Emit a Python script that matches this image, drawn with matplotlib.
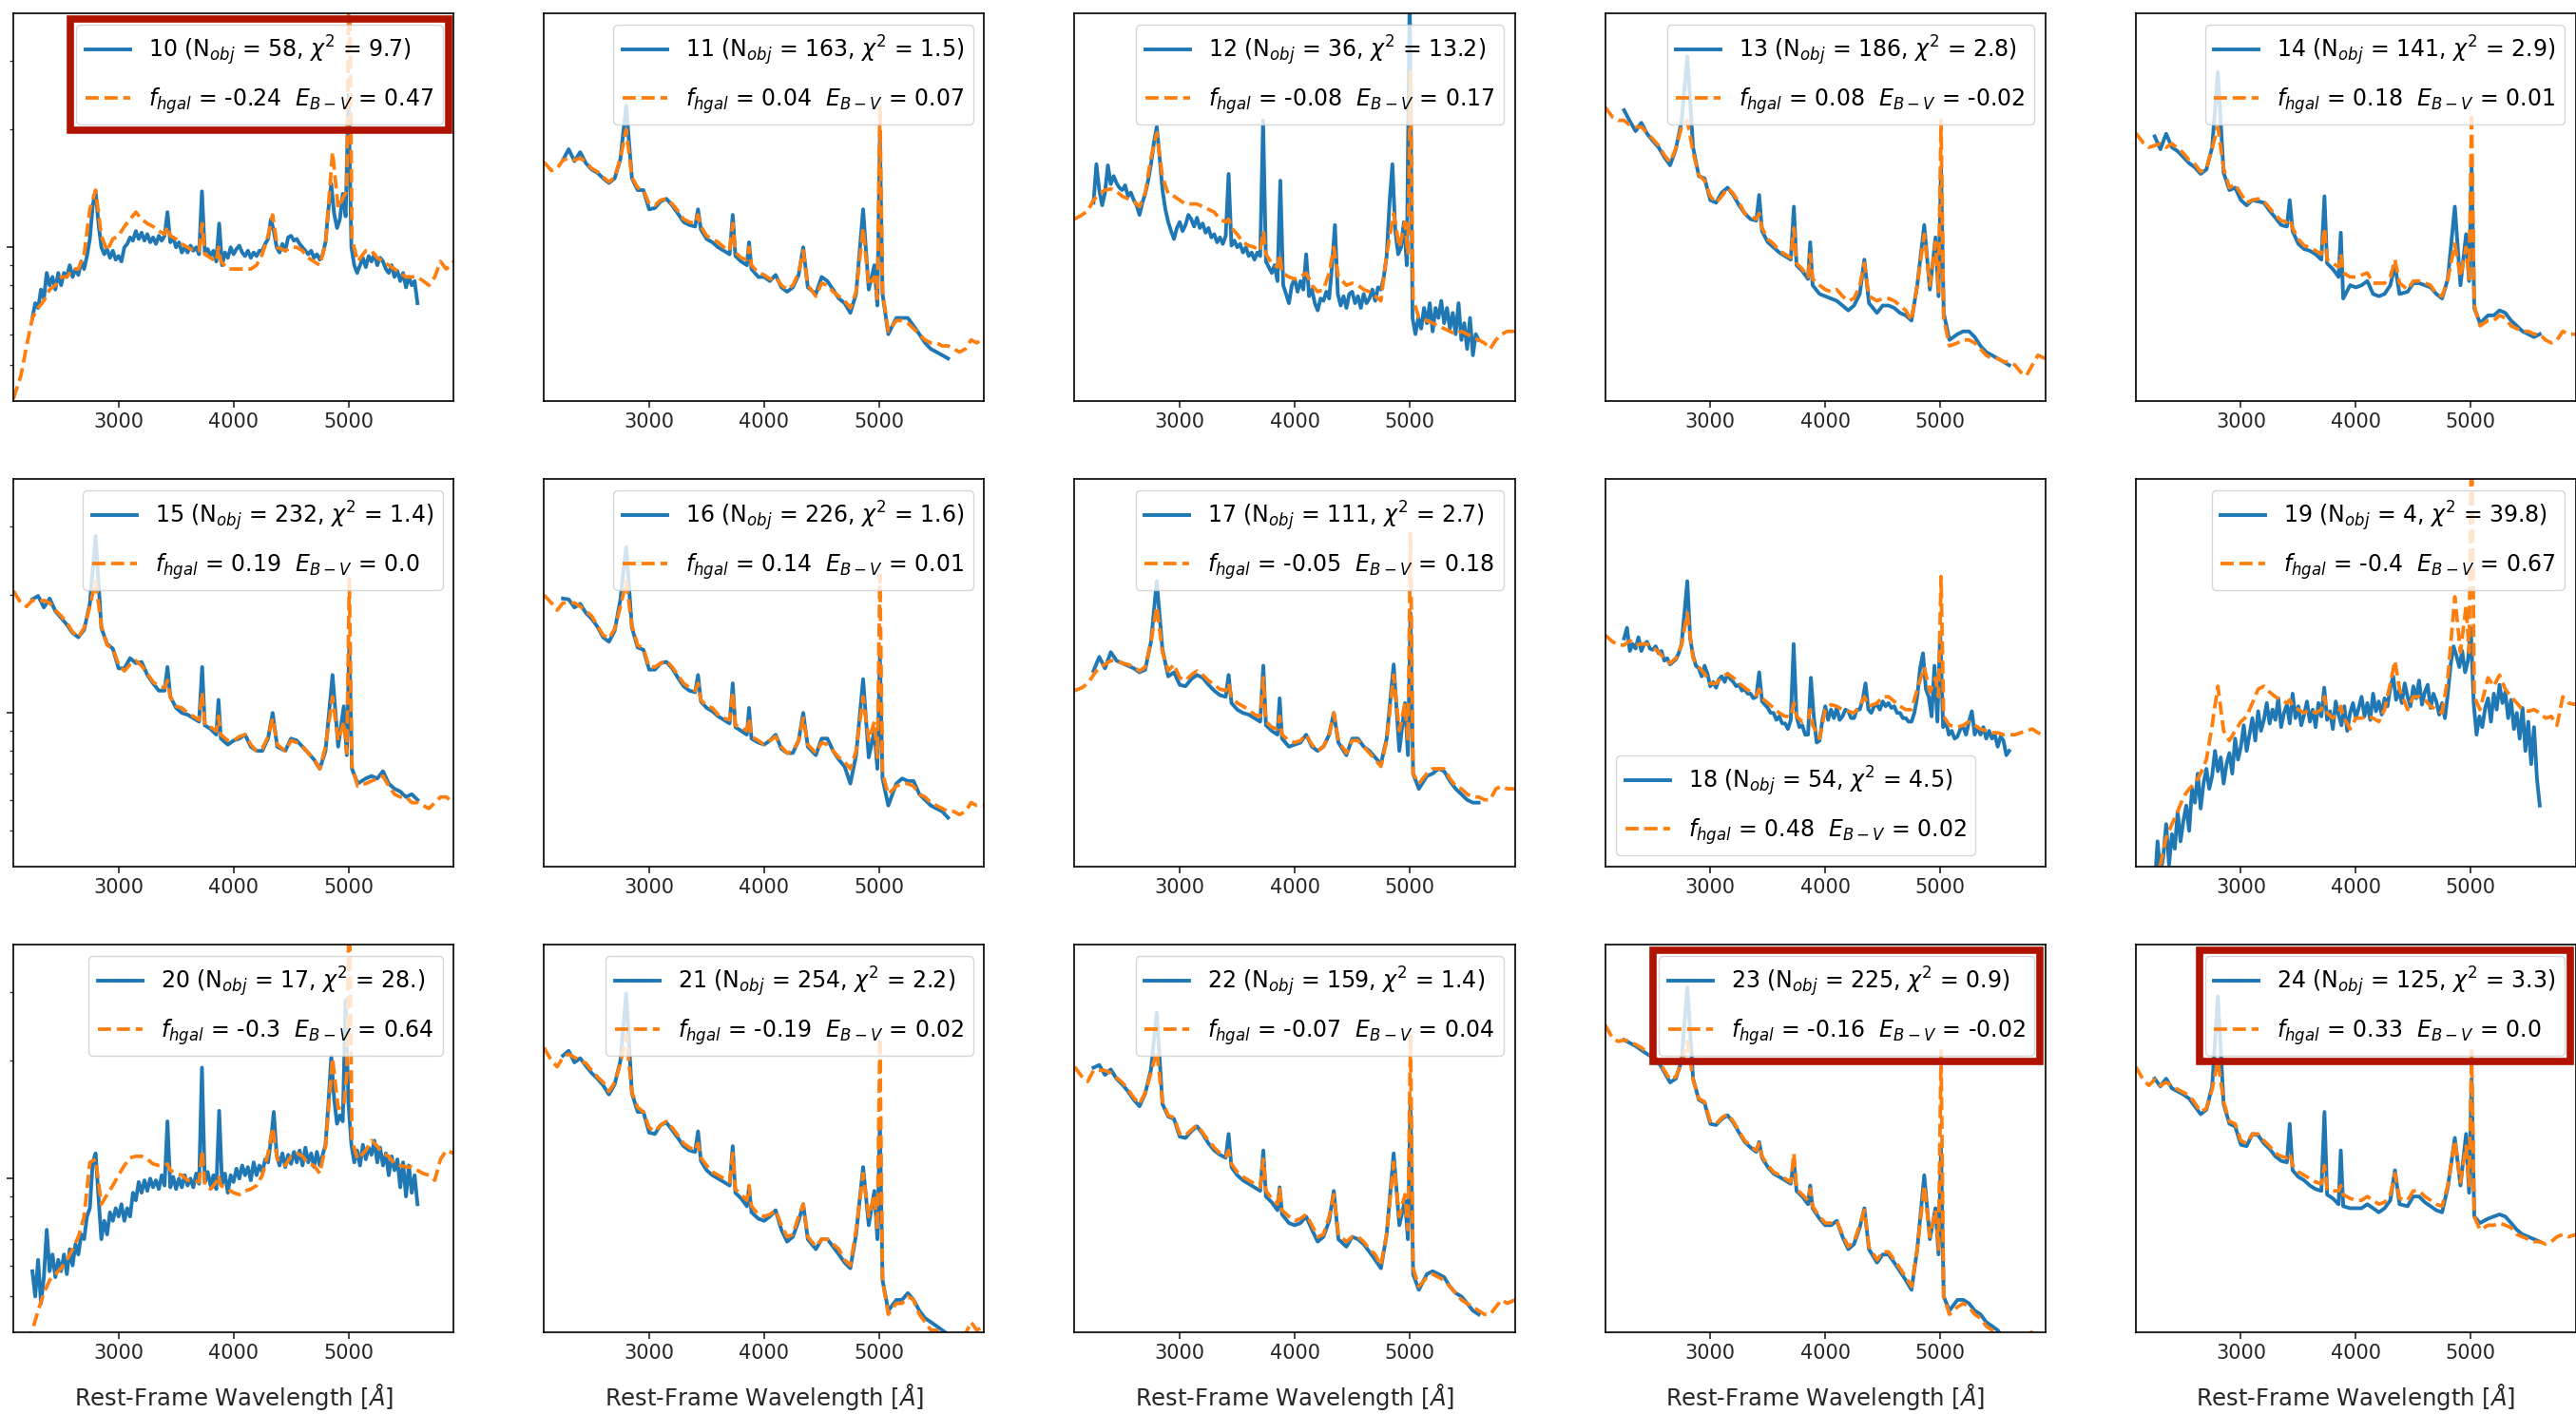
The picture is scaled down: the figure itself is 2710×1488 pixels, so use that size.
import matplotlib
matplotlib.use("Agg")
import matplotlib.pyplot as plt
from matplotlib.patches import Rectangle
from matplotlib.ticker import NullLocator

plt.rcParams['font.family'] = ['DejaVu Sans']
plt.rcParams['font.size'] = 15
plt.rcParams['axes.linewidth'] = 1.2
plt.rcParams['xtick.major.size'] = 5.25
plt.rcParams['xtick.major.width'] = 1.2
plt.rcParams['ytick.major.size'] = 5.25
plt.rcParams['ytick.major.width'] = 1.2
plt.rcParams['ytick.minor.size'] = 3.0
plt.rcParams['ytick.minor.width'] = 0.9

# rest-frame wavelength grid [A]; the clean stacks are sampled on wave[3:75] (2250-5600 A)
wave = [2085, 2150, 2200, 2250, 2300, 2350, 2400, 2450, 2500,
        2550, 2600, 2650, 2700, 2750, 2800, 2850, 2900, 2950,
        3000, 3050, 3100, 3150, 3200, 3250, 3300, 3350, 3400,
        3425, 3450, 3500, 3550, 3600, 3650, 3700, 3727, 3750,
        3800, 3850, 3869, 3890, 3950, 4000, 4050, 4100, 4150,
        4200, 4250, 4300, 4340, 4380, 4450, 4500, 4550, 4600,
        4650, 4700, 4750, 4800, 4861, 4910, 4959, 4985, 5007,
        5030, 5080, 5150, 5200, 5250, 5300, 5350, 5400, 5450,
        5500, 5550, 5600, 5650, 5700, 5750, 5800, 5850, 5915]
# the noisy stacks (few objects) are kept at 25 A sampling
fine_wave = list(range(2250, 5601, 25))

# normalised flux of the composite spectra (obs) and best-fit models (fit)
obs_10 = [0.66, 0.72, 0.70, 0.78, 0.74, 0.86, 0.80, 0.84, 0.78, 0.86,
          0.80, 0.86, 0.84, 0.90, 0.84, 0.88, 0.85, 0.92, 0.88, 0.95,
          1.05, 1.28, 1.39, 1.15, 1.00, 0.96, 0.99, 0.94, 0.98, 0.93,
          0.95, 0.92, 1.00, 1.02, 1.06, 1.04, 1.10, 1.05, 1.09, 1.04,
          1.08, 1.03, 1.06, 1.02, 1.07, 1.04, 1.07, 1.23, 1.03, 1.06,
          1.00, 1.03, 0.97, 1.00, 0.97, 1.01, 0.98, 1.00, 0.96, 1.39,
          0.97, 0.99, 0.95, 0.98, 0.92, 1.15, 0.90, 0.97, 0.94, 1.00,
          0.96, 0.99, 1.01, 0.97, 0.95, 0.98, 0.94, 0.97, 0.95, 0.98,
          0.98, 1.02, 1.05, 1.18, 1.10, 1.00, 0.97, 1.02, 0.98, 1.06,
          1.07, 1.04, 1.05, 1.02, 1.00, 0.98, 0.96, 0.98, 0.94, 0.96,
          0.93, 0.96, 1.03, 1.25, 1.45, 1.22, 1.12, 1.18, 1.37, 1.20,
          2.45, 1.00, 0.90, 0.86, 0.90, 0.94, 0.89, 0.95, 0.92, 0.96,
          0.90, 0.94, 0.92, 0.88, 0.86, 0.90, 0.84, 0.87, 0.82, 0.86,
          0.79, 0.84, 0.80, 0.82, 0.72]
fit_10 = [0.41, 0.47, 0.56, 0.66, 0.70, 0.73, 0.78, 0.80, 0.84,
          0.84, 0.88, 0.88, 0.96, 1.25, 1.40, 1.07, 0.98, 1.05,
          1.07, 1.13, 1.18, 1.23, 1.18, 1.15, 1.13, 1.10, 1.08,
          1.13, 1.07, 1.05, 1.02, 1.00, 0.98, 0.98, 1.15, 0.96,
          0.94, 0.92, 1.00, 0.92, 0.88, 0.88, 0.88, 0.88, 0.88,
          0.90, 0.96, 1.07, 1.21, 1.00, 0.98, 1.00, 1.00, 0.98,
          0.94, 0.92, 0.90, 1.02, 1.75, 1.26, 1.35, 1.39, 6.00,
          1.05, 0.92, 0.98, 0.98, 0.94, 0.92, 0.90, 0.88, 0.86,
          0.84, 0.84, 0.84, 0.82, 0.80, 0.84, 0.92, 0.88, 0.92]

obs_11 = [1.67, 1.78, 1.66, 1.75, 1.64, 1.58,
          1.55, 1.50, 1.46, 1.50, 1.68, 2.30, 1.50, 1.40, 1.40,
          1.25, 1.26, 1.31, 1.33, 1.28, 1.22, 1.16, 1.14, 1.13,
          1.25, 1.11, 1.05, 1.03, 1.00, 0.98, 0.96, 1.21, 0.95,
          0.92, 0.90, 1.03, 0.88, 0.84, 0.84, 0.82, 0.85, 0.79,
          0.77, 0.79, 0.85, 1.00, 0.79, 0.76, 0.84, 0.82, 0.78,
          0.74, 0.72, 0.68, 0.76, 1.25, 0.78, 0.90, 0.71, 1.90,
          0.76, 0.60, 0.66, 0.66, 0.66, 0.63, 0.60, 0.57, 0.55,
          0.54, 0.53, 0.52]
fit_11 = [1.65, 1.57, 1.59, 1.67, 1.69, 1.67, 1.69, 1.65, 1.59,
          1.56, 1.51, 1.47, 1.51, 1.69, 2.00, 1.51, 1.42, 1.40,
          1.29, 1.28, 1.32, 1.33, 1.29, 1.24, 1.18, 1.16, 1.15,
          1.21, 1.13, 1.07, 1.05, 1.03, 1.00, 0.98, 1.15, 0.97,
          0.94, 0.93, 1.00, 0.90, 0.86, 0.85, 0.83, 0.84, 0.80,
          0.78, 0.80, 0.86, 0.98, 0.80, 0.75, 0.81, 0.80, 0.77,
          0.75, 0.73, 0.70, 0.77, 1.12, 0.80, 0.84, 0.74, 2.30,
          0.77, 0.61, 0.65, 0.65, 0.64, 0.62, 0.60, 0.58, 0.57,
          0.57, 0.56, 0.56, 0.55, 0.54, 0.55, 0.58, 0.57, 0.59]

obs_12 = [1.30, 1.63, 1.40, 1.28, 1.38, 1.62, 1.45, 1.52, 1.46, 1.42,
          1.40, 1.44, 1.35, 1.38, 1.32, 1.28, 1.21, 1.30, 1.37, 1.48,
          1.63, 1.85, 2.03, 1.70, 1.40, 1.25, 1.16, 1.10, 1.05, 1.12,
          1.16, 1.10, 1.14, 1.21, 1.18, 1.13, 1.19, 1.12, 1.15, 1.09,
          1.12, 1.06, 1.08, 1.03, 1.06, 1.02, 1.07, 1.54, 1.01, 1.04,
          1.00, 1.02, 0.97, 1.00, 0.95, 0.97, 0.93, 0.97, 0.95, 2.11,
          0.92, 0.89, 0.86, 0.90, 0.82, 1.48, 0.80, 0.76, 0.72, 0.80,
          0.83, 0.77, 0.82, 0.78, 0.96, 0.75, 0.78, 0.72, 0.69, 0.74,
          0.73, 0.77, 0.74, 0.90, 1.14, 0.76, 0.71, 0.75, 0.70, 0.76,
          0.77, 0.72, 0.75, 0.70, 0.76, 0.72, 0.74, 0.78, 0.73, 0.79,
          0.78, 0.84, 0.95, 1.30, 1.63, 1.10, 0.96, 1.00, 1.16, 0.90,
          4.50, 0.66, 0.60, 0.66, 0.62, 0.70, 0.64, 0.72, 0.61, 0.70,
          0.66, 0.73, 0.64, 0.70, 0.62, 0.68, 0.60, 0.72, 0.58, 0.64,
          0.55, 0.66, 0.53, 0.60, 0.58]
fit_12 = [1.18, 1.21, 1.24, 1.32, 1.37, 1.40, 1.41, 1.39, 1.35,
          1.33, 1.31, 1.27, 1.38, 1.69, 1.96, 1.51, 1.37, 1.35,
          1.32, 1.29, 1.29, 1.29, 1.27, 1.25, 1.23, 1.18, 1.16,
          1.18, 1.12, 1.08, 1.03, 1.01, 1.00, 0.98, 1.10, 0.96,
          0.91, 0.89, 0.96, 0.86, 0.84, 0.83, 0.84, 0.86, 0.80,
          0.77, 0.78, 0.86, 1.00, 0.84, 0.80, 0.81, 0.80, 0.78,
          0.77, 0.75, 0.73, 0.96, 1.22, 1.00, 1.16, 0.96, 2.80,
          0.74, 0.66, 0.65, 0.64, 0.63, 0.62, 0.61, 0.60, 0.61,
          0.60, 0.59, 0.58, 0.57, 0.55, 0.58, 0.60, 0.61, 0.61]

obs_13 = [2.24, 2.10, 1.98, 2.08, 1.95, 1.87,
          1.80, 1.70, 1.62, 1.78, 2.10, 3.07, 1.80, 1.52, 1.50,
          1.32, 1.30, 1.38, 1.42, 1.36, 1.28, 1.22, 1.18, 1.17,
          1.36, 1.10, 1.03, 1.00, 0.97, 0.95, 0.93, 1.27, 0.90,
          0.87, 0.83, 1.03, 0.80, 0.76, 0.75, 0.74, 0.73, 0.71,
          0.69, 0.71, 0.76, 0.93, 0.72, 0.68, 0.71, 0.71, 0.70,
          0.68, 0.67, 0.65, 0.80, 1.14, 0.78, 1.06, 0.75, 1.60,
          0.68, 0.58, 0.60, 0.61, 0.61, 0.59, 0.56, 0.54, 0.53,
          0.52, 0.51, 0.50]
fit_13 = [2.28, 2.15, 2.11, 2.11, 2.05, 2.03, 2.03, 1.96, 1.89,
          1.82, 1.72, 1.65, 1.79, 2.03, 2.11, 1.75, 1.53, 1.48,
          1.35, 1.30, 1.35, 1.42, 1.37, 1.30, 1.22, 1.20, 1.18,
          1.22, 1.12, 1.05, 1.02, 0.98, 0.96, 0.94, 1.12, 0.91,
          0.88, 0.84, 0.96, 0.83, 0.80, 0.78, 0.77, 0.78, 0.75,
          0.73, 0.74, 0.80, 0.91, 0.75, 0.73, 0.74, 0.74, 0.73,
          0.71, 0.69, 0.65, 0.80, 1.08, 0.80, 1.03, 0.77, 2.11,
          0.66, 0.56, 0.57, 0.58, 0.58, 0.57, 0.55, 0.53, 0.52,
          0.52, 0.51, 0.51, 0.50, 0.48, 0.47, 0.50, 0.53, 0.52]

obs_14 = [1.92, 1.78, 1.95, 1.80, 1.76, 1.70,
          1.64, 1.60, 1.54, 1.58, 1.80, 2.80, 1.55, 1.40, 1.42,
          1.32, 1.28, 1.32, 1.31, 1.30, 1.24, 1.19, 1.14, 1.13,
          1.32, 1.10, 1.02, 0.99, 0.98, 0.96, 0.93, 1.35, 0.91,
          0.88, 0.84, 1.09, 0.74, 0.80, 0.79, 0.80, 0.82, 0.76,
          0.75, 0.76, 0.80, 0.90, 0.76, 0.77, 0.81, 0.81, 0.80,
          0.79, 0.76, 0.74, 0.83, 1.27, 0.80, 1.08, 0.82, 1.60,
          0.70, 0.64, 0.67, 0.67, 0.69, 0.68, 0.65, 0.63, 0.61,
          0.60, 0.59, 0.60]
fit_14 = [1.96, 1.85, 1.80, 1.82, 1.84, 1.80, 1.84, 1.79, 1.74,
          1.67, 1.63, 1.56, 1.59, 1.79, 2.03, 1.59, 1.42, 1.45,
          1.37, 1.30, 1.32, 1.33, 1.31, 1.26, 1.21, 1.17, 1.16,
          1.18, 1.12, 1.05, 1.01, 1.00, 0.98, 0.96, 1.12, 0.93,
          0.91, 0.89, 0.96, 0.86, 0.84, 0.84, 0.85, 0.86, 0.81,
          0.81, 0.81, 0.84, 0.93, 0.81, 0.78, 0.82, 0.82, 0.81,
          0.80, 0.76, 0.75, 0.83, 1.02, 0.84, 1.00, 0.83, 2.20,
          0.71, 0.63, 0.65, 0.65, 0.67, 0.66, 0.63, 0.62, 0.61,
          0.61, 0.60, 0.60, 0.58, 0.57, 0.58, 0.61, 0.60, 0.60]

obs_15 = [1.95, 1.99, 1.86, 1.96, 1.82, 1.75,
          1.68, 1.60, 1.56, 1.63, 1.90, 2.83, 1.65, 1.50, 1.46,
          1.30, 1.30, 1.38, 1.34, 1.35, 1.25, 1.19, 1.14, 1.14,
          1.31, 1.10, 1.03, 1.00, 0.99, 0.97, 0.95, 1.31, 0.93,
          0.91, 0.88, 1.08, 0.86, 0.83, 0.85, 0.86, 0.88, 0.82,
          0.80, 0.80, 0.86, 1.00, 0.82, 0.80, 0.86, 0.85, 0.82,
          0.79, 0.76, 0.72, 0.80, 1.25, 0.82, 1.04, 0.78, 1.50,
          0.72, 0.66, 0.68, 0.69, 0.68, 0.71, 0.66, 0.64, 0.63,
          0.61, 0.62, 0.60]
fit_15 = [2.05, 1.91, 1.87, 1.94, 1.92, 1.94, 1.91, 1.83, 1.77,
          1.70, 1.61, 1.56, 1.65, 1.87, 2.17, 1.67, 1.49, 1.46,
          1.33, 1.28, 1.33, 1.36, 1.32, 1.26, 1.20, 1.17, 1.16,
          1.21, 1.10, 1.04, 1.03, 1.00, 0.98, 0.96, 1.13, 0.93,
          0.92, 0.90, 0.98, 0.88, 0.85, 0.85, 0.87, 0.88, 0.83,
          0.80, 0.81, 0.87, 0.97, 0.83, 0.80, 0.85, 0.84, 0.82,
          0.79, 0.76, 0.72, 0.82, 1.10, 0.85, 0.95, 0.79, 2.20,
          0.73, 0.65, 0.66, 0.67, 0.68, 0.69, 0.65, 0.62, 0.61,
          0.61, 0.59, 0.59, 0.58, 0.57, 0.59, 0.61, 0.61, 0.59]

obs_16 = [1.96, 1.95, 1.86, 1.90, 1.80, 1.74,
          1.66, 1.56, 1.52, 1.62, 1.95, 2.65, 1.65, 1.47, 1.45,
          1.29, 1.29, 1.34, 1.35, 1.30, 1.23, 1.17, 1.14, 1.13,
          1.25, 1.07, 1.03, 1.01, 0.98, 0.96, 0.94, 1.19, 0.92,
          0.90, 0.88, 1.03, 0.86, 0.84, 0.83, 0.85, 0.88, 0.81,
          0.79, 0.79, 0.85, 1.00, 0.82, 0.78, 0.86, 0.86, 0.80,
          0.76, 0.73, 0.66, 0.78, 1.22, 0.77, 0.90, 0.72, 1.40,
          0.68, 0.58, 0.66, 0.68, 0.67, 0.67, 0.62, 0.60, 0.58,
          0.57, 0.56, 0.54]
fit_16 = [2.00, 1.91, 1.83, 1.91, 1.91, 1.91, 1.87, 1.82, 1.77,
          1.67, 1.58, 1.55, 1.64, 1.87, 2.17, 1.67, 1.49, 1.46,
          1.31, 1.31, 1.34, 1.36, 1.31, 1.25, 1.19, 1.16, 1.14,
          1.19, 1.08, 1.04, 1.03, 0.99, 0.97, 0.96, 1.13, 0.93,
          0.92, 0.90, 0.97, 0.87, 0.85, 0.83, 0.85, 0.87, 0.82,
          0.79, 0.80, 0.85, 0.97, 0.83, 0.79, 0.84, 0.83, 0.80,
          0.77, 0.75, 0.72, 0.80, 1.10, 0.85, 0.95, 0.77, 2.25,
          0.70, 0.62, 0.65, 0.66, 0.66, 0.65, 0.62, 0.61, 0.59,
          0.58, 0.57, 0.56, 0.56, 0.55, 0.56, 0.59, 0.58, 0.58]

obs_17 = [1.28, 1.39, 1.30, 1.43, 1.36, 1.34,
          1.32, 1.30, 1.27, 1.29, 1.52, 2.17, 1.45, 1.24, 1.27,
          1.18, 1.17, 1.22, 1.25, 1.23, 1.18, 1.14, 1.11, 1.10,
          1.25, 1.06, 1.02, 1.00, 0.99, 0.97, 0.95, 1.32, 0.93,
          0.90, 0.88, 1.09, 0.86, 0.82, 0.83, 0.84, 0.88, 0.82,
          0.80, 0.82, 0.88, 1.00, 0.84, 0.78, 0.86, 0.86, 0.82,
          0.80, 0.77, 0.74, 0.86, 1.33, 0.80, 1.06, 0.78, 1.80,
          0.70, 0.64, 0.69, 0.70, 0.72, 0.71, 0.67, 0.64, 0.62,
          0.60, 0.59, 0.59]
fit_17 = [1.14, 1.16, 1.19, 1.25, 1.31, 1.33, 1.36, 1.36, 1.34,
          1.33, 1.31, 1.28, 1.31, 1.52, 1.87, 1.43, 1.28, 1.33,
          1.23, 1.21, 1.25, 1.28, 1.25, 1.21, 1.18, 1.15, 1.14,
          1.19, 1.10, 1.06, 1.04, 1.02, 0.99, 0.98, 1.23, 0.95,
          0.92, 0.91, 0.98, 0.88, 0.85, 0.84, 0.85, 0.88, 0.83,
          0.80, 0.82, 0.88, 1.00, 0.85, 0.79, 0.85, 0.85, 0.82,
          0.79, 0.76, 0.73, 0.85, 1.25, 0.90, 1.06, 0.85, 2.87,
          0.70, 0.66, 0.70, 0.72, 0.72, 0.72, 0.68, 0.65, 0.64,
          0.62, 0.61, 0.61, 0.60, 0.60, 0.64, 0.65, 0.64, 0.64]

obs_18 = [1.55, 1.65, 1.44, 1.50, 1.46, 1.56, 1.44, 1.50, 1.52, 1.46,
          1.45, 1.48, 1.42, 1.44, 1.36, 1.38, 1.33, 1.35, 1.37, 1.42,
          1.50, 1.80, 2.17, 1.55, 1.40, 1.32, 1.30, 1.24, 1.32, 1.26,
          1.17, 1.20, 1.16, 1.22, 1.24, 1.20, 1.26, 1.22, 1.20, 1.17,
          1.18, 1.14, 1.15, 1.12, 1.12, 1.09, 1.10, 1.27, 1.07, 1.05,
          1.03, 1.00, 1.00, 0.96, 0.98, 0.94, 0.94, 0.91, 0.96, 1.50,
          0.98, 0.92, 0.93, 0.88, 0.88, 1.23, 0.98, 0.84, 0.85, 0.96,
          1.04, 0.96, 1.02, 0.97, 1.03, 0.96, 0.98, 1.02, 1.01, 0.97,
          0.97, 1.02, 1.02, 1.08, 1.19, 1.02, 1.00, 1.04, 1.05, 1.02,
          1.07, 1.04, 1.06, 1.03, 1.04, 1.00, 1.00, 0.97, 0.97, 0.95,
          0.95, 1.00, 1.10, 1.30, 1.42, 1.15, 1.10, 0.98, 1.32, 0.95,
          1.60, 0.92, 0.95, 0.88, 0.90, 0.86, 0.87, 0.91, 0.92, 0.88,
          0.95, 1.01, 0.88, 0.92, 0.88, 0.92, 0.86, 0.90, 0.86, 0.88,
          0.82, 0.87, 0.85, 0.78, 0.80]
fit_18 = [1.58, 1.52, 1.49, 1.49, 1.53, 1.49, 1.50, 1.50, 1.47,
          1.43, 1.38, 1.34, 1.38, 1.49, 1.80, 1.38, 1.31, 1.26,
          1.19, 1.19, 1.23, 1.26, 1.23, 1.19, 1.16, 1.13, 1.11,
          1.15, 1.09, 1.06, 1.03, 1.00, 0.98, 0.98, 1.06, 0.98,
          0.95, 0.97, 1.02, 0.93, 0.86, 1.02, 1.05, 1.04, 1.02,
          1.01, 1.00, 1.04, 1.10, 1.04, 1.06, 1.10, 1.10, 1.07,
          1.04, 1.02, 1.02, 1.15, 1.31, 1.13, 1.23, 1.10, 2.23,
          0.98, 0.93, 0.92, 0.93, 0.95, 0.93, 0.91, 0.90, 0.89,
          0.89, 0.88, 0.88, 0.88, 0.89, 0.90, 0.91, 0.89, 0.87]

obs_19 = [0.36, 0.47, 0.39, 0.43, 0.52, 0.41, 0.49, 0.45, 0.56, 0.47,
          0.53, 0.58, 0.50, 0.64, 0.59, 0.70, 0.57, 0.66, 0.72, 0.64,
          0.69, 0.80, 0.71, 0.77, 0.66, 0.74, 0.79, 0.70, 0.86, 0.76,
          0.82, 0.93, 0.80, 0.88, 0.97, 0.85, 1.01, 0.90, 0.96, 1.06,
          0.94, 1.02, 0.96, 1.09, 0.92, 1.00, 1.05, 0.94, 1.12, 0.97,
          1.04, 0.93, 0.99, 1.07, 0.95, 1.02, 0.92, 1.06, 0.98, 1.16,
          0.96, 1.01, 0.91, 1.07, 0.99, 0.93, 1.04, 0.90, 1.00, 1.06,
          0.97, 1.03, 1.10, 0.98, 1.06, 0.96, 1.12, 1.01, 1.07, 0.99,
          1.09, 1.04, 1.16, 1.24, 1.08, 1.14, 1.06, 1.19, 1.10, 1.04,
          1.17, 1.09, 1.21, 1.05, 1.13, 1.18, 1.03, 1.12, 1.07, 0.99,
          1.06, 0.97, 1.12, 1.33, 1.48, 1.40, 1.31, 1.44, 1.27, 1.36,
          1.65, 1.06, 0.88, 0.98, 0.92, 1.03, 1.09, 0.95, 1.12, 1.02,
          1.18, 1.06, 1.13, 0.97, 1.08, 0.91, 1.00, 0.86, 1.03, 0.80,
          0.95, 0.74, 0.92, 0.68, 0.58]
fit_19 = [0.30, 0.33, 0.35, 0.38, 0.41, 0.48, 0.52, 0.56, 0.61,
          0.64, 0.66, 0.70, 0.76, 0.93, 1.17, 0.90, 0.85, 0.90,
          0.95, 0.98, 1.06, 1.15, 1.17, 1.13, 1.10, 1.08, 1.06,
          1.08, 1.04, 1.02, 1.00, 1.02, 1.00, 1.02, 1.10, 1.00,
          0.97, 1.00, 1.04, 0.98, 0.91, 0.97, 0.97, 0.98, 0.97,
          0.95, 1.02, 1.19, 1.36, 1.15, 1.02, 1.10, 1.10, 1.08,
          1.04, 1.02, 1.00, 1.23, 1.98, 1.43, 1.88, 1.43, 5.50,
          1.10, 1.02, 1.23, 1.17, 1.25, 1.15, 1.10, 1.06, 1.02,
          1.01, 1.02, 1.00, 0.97, 0.98, 0.93, 1.10, 1.06, 1.05]

obs_20 = [0.58, 0.50, 0.62, 0.48, 0.56, 0.74, 0.58, 0.64, 0.56, 0.62,
          0.58, 0.64, 0.57, 0.66, 0.60, 0.68, 0.64, 0.72, 0.70, 0.80,
          0.84, 1.10, 1.16, 0.90, 0.70, 0.78, 0.72, 0.82, 0.78, 0.84,
          0.80, 0.86, 0.78, 0.84, 0.80, 0.92, 0.88, 0.98, 0.92, 0.99,
          0.93, 1.00, 0.95, 0.99, 0.94, 1.02, 0.96, 1.40, 0.95, 1.01,
          0.94, 1.00, 0.95, 1.02, 0.96, 1.00, 0.95, 1.03, 0.97, 1.92,
          0.98, 1.04, 0.96, 1.02, 0.94, 1.49, 0.97, 1.03, 0.92, 1.02,
          0.98, 1.06, 1.00, 1.08, 1.02, 1.07, 0.99, 1.10, 1.02, 1.08,
          1.04, 1.12, 1.10, 1.25, 1.48, 1.15, 1.08, 1.16, 1.07, 1.15,
          1.09, 1.17, 1.10, 1.18, 1.08, 1.20, 1.10, 1.16, 1.07, 1.17,
          1.08, 1.15, 1.22, 1.55, 2.05, 1.60, 1.38, 1.45, 1.40, 2.85,
          1.55, 1.22, 1.10, 1.18, 1.08, 1.22, 1.12, 1.20, 1.15, 1.25,
          1.10, 1.20, 1.08, 1.16, 1.02, 1.14, 1.05, 1.12, 0.95, 1.10,
          0.90, 1.08, 0.92, 1.02, 0.86]
fit_20 = [0.35, 0.37, 0.38, 0.41, 0.46, 0.51, 0.55, 0.57, 0.59,
          0.62, 0.66, 0.71, 0.80, 1.10, 1.12, 0.86, 0.91, 0.96,
          1.02, 1.08, 1.13, 1.14, 1.14, 1.12, 1.09, 1.08, 1.08,
          1.09, 1.05, 1.03, 1.02, 0.99, 0.99, 0.98, 1.18, 0.96,
          0.94, 0.98, 1.02, 0.96, 0.94, 0.92, 0.91, 0.93, 0.94,
          0.96, 1.02, 1.16, 1.35, 1.12, 1.08, 1.14, 1.16, 1.14,
          1.09, 1.08, 1.03, 1.21, 2.03, 1.51, 1.53, 1.85, 5.50,
          1.25, 1.12, 1.18, 1.25, 1.21, 1.16, 1.14, 1.09, 1.08,
          1.07, 1.07, 1.05, 1.03, 1.02, 0.99, 1.12, 1.18, 1.16]

obs_21 = [2.06, 2.12, 1.98, 2.03, 1.94, 1.86,
          1.80, 1.73, 1.64, 1.74, 2.00, 2.97, 1.65, 1.48, 1.48,
          1.31, 1.30, 1.37, 1.39, 1.33, 1.27, 1.21, 1.18, 1.17,
          1.32, 1.11, 1.05, 1.02, 1.00, 0.98, 0.96, 1.21, 0.92,
          0.89, 0.85, 0.95, 0.82, 0.79, 0.78, 0.80, 0.83, 0.74,
          0.69, 0.71, 0.78, 0.86, 0.70, 0.66, 0.70, 0.70, 0.67,
          0.64, 0.61, 0.59, 0.72, 1.07, 0.76, 0.93, 0.70, 1.40,
          0.55, 0.46, 0.49, 0.49, 0.51, 0.49, 0.46, 0.44, 0.43,
          0.42, 0.41, 0.40]
fit_21 = [2.16, 2.00, 1.93, 2.04, 2.08, 2.04, 2.00, 1.97, 1.89,
          1.82, 1.76, 1.67, 1.76, 1.97, 2.33, 1.66, 1.52, 1.48,
          1.35, 1.32, 1.37, 1.40, 1.35, 1.29, 1.23, 1.20, 1.18,
          1.23, 1.13, 1.08, 1.04, 1.02, 1.00, 0.98, 1.16, 0.94,
          0.91, 0.88, 0.96, 0.85, 0.81, 0.80, 0.81, 0.83, 0.76,
          0.71, 0.72, 0.80, 0.86, 0.71, 0.67, 0.70, 0.70, 0.68,
          0.66, 0.62, 0.60, 0.74, 1.03, 0.80, 0.91, 0.74, 2.28,
          0.55, 0.45, 0.48, 0.48, 0.50, 0.49, 0.45, 0.43, 0.41,
          0.41, 0.39, 0.38, 0.37, 0.36, 0.40, 0.43, 0.41, 0.42]

obs_22 = [1.92, 1.95, 1.84, 1.90, 1.80, 1.74,
          1.67, 1.59, 1.53, 1.65, 1.90, 2.65, 1.55, 1.44, 1.42,
          1.28, 1.27, 1.32, 1.36, 1.30, 1.23, 1.18, 1.15, 1.13,
          1.30, 1.07, 1.02, 0.99, 0.97, 0.95, 0.93, 1.18, 0.90,
          0.87, 0.83, 0.95, 0.81, 0.77, 0.76, 0.77, 0.80, 0.74,
          0.69, 0.71, 0.78, 0.93, 0.70, 0.67, 0.71, 0.70, 0.68,
          0.65, 0.62, 0.59, 0.72, 1.16, 0.76, 0.88, 0.70, 1.60,
          0.57, 0.52, 0.57, 0.58, 0.57, 0.56, 0.53, 0.51, 0.50,
          0.48, 0.46, 0.45]
fit_22 = [1.93, 1.82, 1.77, 1.89, 1.89, 1.89, 1.86, 1.81, 1.76,
          1.69, 1.61, 1.55, 1.66, 1.86, 2.12, 1.57, 1.45, 1.43,
          1.30, 1.29, 1.33, 1.37, 1.31, 1.25, 1.20, 1.16, 1.14,
          1.18, 1.09, 1.04, 1.01, 0.99, 0.97, 0.95, 1.12, 0.93,
          0.89, 0.86, 0.94, 0.83, 0.80, 0.78, 0.79, 0.81, 0.76,
          0.71, 0.72, 0.80, 0.91, 0.72, 0.69, 0.71, 0.71, 0.69,
          0.66, 0.64, 0.60, 0.72, 1.10, 0.80, 0.91, 0.74, 2.33,
          0.59, 0.53, 0.56, 0.57, 0.56, 0.55, 0.53, 0.51, 0.49,
          0.48, 0.47, 0.46, 0.45, 0.45, 0.47, 0.49, 0.48, 0.49]

obs_23 = [2.26, 2.22, 2.18, 2.13, 2.08, 2.04,
          1.98, 1.87, 1.76, 1.80, 2.00, 3.08, 1.80, 1.59, 1.56,
          1.38, 1.37, 1.42, 1.45, 1.39, 1.31, 1.24, 1.20, 1.17,
          1.24, 1.13, 1.07, 1.03, 1.01, 0.99, 0.97, 1.12, 0.93,
          0.90, 0.86, 0.96, 0.84, 0.79, 0.76, 0.76, 0.78, 0.71,
          0.66, 0.68, 0.75, 0.84, 0.66, 0.61, 0.64, 0.64, 0.61,
          0.58, 0.55, 0.52, 0.66, 1.02, 0.70, 0.84, 0.64, 1.20,
          0.50, 0.46, 0.49, 0.49, 0.48, 0.46, 0.45, 0.43, 0.42,
          0.41, 0.39, 0.37]
fit_23 = [2.47, 2.28, 2.24, 2.26, 2.24, 2.20, 2.16, 2.10, 2.06,
          2.00, 1.89, 1.79, 1.82, 1.97, 2.24, 1.79, 1.60, 1.57,
          1.40, 1.38, 1.43, 1.46, 1.40, 1.32, 1.25, 1.21, 1.18,
          1.23, 1.14, 1.08, 1.04, 1.02, 1.00, 0.98, 1.16, 0.94,
          0.91, 0.88, 0.94, 0.85, 0.80, 0.77, 0.77, 0.78, 0.72,
          0.67, 0.69, 0.76, 0.83, 0.67, 0.62, 0.65, 0.65, 0.62,
          0.59, 0.56, 0.53, 0.66, 0.96, 0.71, 0.83, 0.66, 2.12,
          0.50, 0.45, 0.47, 0.48, 0.47, 0.45, 0.44, 0.42, 0.41,
          0.40, 0.39, 0.38, 0.37, 0.37, 0.37, 0.41, 0.40, 0.39]

obs_24 = [1.80, 1.72, 1.80, 1.70, 1.67, 1.64,
          1.60, 1.53, 1.46, 1.50, 1.72, 2.92, 1.55, 1.38, 1.36,
          1.22, 1.21, 1.30, 1.29, 1.23, 1.19, 1.14, 1.11, 1.10,
          1.38, 1.05, 1.01, 0.99, 0.96, 0.94, 0.93, 1.48, 0.91,
          0.89, 0.86, 1.18, 0.85, 0.84, 0.84, 0.84, 0.86, 0.84,
          0.82, 0.84, 0.88, 1.05, 0.86, 0.85, 0.90, 0.90, 0.87,
          0.85, 0.83, 0.82, 0.95, 1.27, 0.96, 1.30, 0.92, 1.80,
          0.80, 0.77, 0.79, 0.80, 0.81, 0.80, 0.77, 0.74, 0.72,
          0.71, 0.70, 0.69]
fit_24 = [1.93, 1.79, 1.73, 1.79, 1.73, 1.76, 1.73, 1.69, 1.66,
          1.63, 1.56, 1.48, 1.51, 1.69, 2.00, 1.57, 1.40, 1.38,
          1.25, 1.23, 1.30, 1.30, 1.25, 1.21, 1.16, 1.14, 1.13,
          1.16, 1.08, 1.04, 1.02, 1.00, 0.98, 0.97, 1.08, 0.94,
          0.93, 0.93, 0.96, 0.91, 0.89, 0.88, 0.88, 0.90, 0.88,
          0.86, 0.87, 0.91, 1.03, 0.89, 0.88, 0.93, 0.93, 0.90,
          0.88, 0.86, 0.85, 0.96, 1.25, 0.98, 1.21, 0.96, 2.12,
          0.80, 0.74, 0.76, 0.76, 0.77, 0.76, 0.75, 0.72, 0.71,
          0.70, 0.69, 0.69, 0.68, 0.69, 0.71, 0.72, 0.71, 0.72]

# per-bin fit summary shown in the legends
bins = [10, 11, 12, 13, 14, 15, 16, 17, 18, 19, 20, 21, 22, 23, 24]
n_obj = ['58', '163', '36', '186', '141', '232', '226', '111', '54', '4',
         '17', '254', '159', '225', '125']
chi2 = ['9.7', '1.5', '13.2', '2.8', '2.9', '1.4', '1.6', '2.7', '4.5', '39.8',
        '28.', '2.2', '1.4', '0.9', '3.3']
f_hgal = ['-0.24', '0.04', '-0.08', '0.08', '0.18', '0.19', '0.14', '-0.05',
          '0.48', '-0.4', '-0.3', '-0.19', '-0.07', '-0.16', '0.33']
e_bv = ['0.47', '0.07', '0.17', '-0.02', '0.01', '0.0', '0.01', '0.18',
        '0.02', '0.67', '0.64', '0.02', '0.04', '-0.02', '0.0']
marked = [10, 23, 24]

spectra = {10: (obs_10, fit_10), 11: (obs_11, fit_11), 12: (obs_12, fit_12),
           13: (obs_13, fit_13), 14: (obs_14, fit_14), 15: (obs_15, fit_15),
           16: (obs_16, fit_16), 17: (obs_17, fit_17), 18: (obs_18, fit_18),
           19: (obs_19, fit_19), 20: (obs_20, fit_20), 21: (obs_21, fit_21),
           22: (obs_22, fit_22), 23: (obs_23, fit_23), 24: (obs_24, fit_24)}

fig, axes = plt.subplots(3, 5, figsize=(27.10, 14.88), dpi=100)
fig.subplots_adjust(left=0.0052, right=1.0, bottom=0.0578, top=0.9906,
                    wspace=0.205, hspace=0.201)

legends = {}
for i, ax in enumerate(axes.flat):
    b = bins[i]
    obs, fit = spectra[b]
    obs_wave = fine_wave if len(obs) == len(fine_wave) else wave[3:75]
    lab_obs = f"{b} (N$_{{obj}}$ = {n_obj[i]}, $\\chi^2$ = {chi2[i]})"
    lab_fit = f"$f_{{hgal}}$ = {f_hgal[i]}  $E_{{B-V}}$ = {e_bv[i]}"
    ax.plot(obs_wave, obs, color='#1f77b4', lw=2.8, label=lab_obs)
    ax.plot(wave, fit, color='#ff7f0e', ls='--', lw=2.7, label=lab_fit)
    ax.set_yscale('log')
    ax.set_xlim(2085, 5915)
    ax.set_ylim(0.405, 3.96)
    ax.set_xticks([3000, 4000, 5000])
    ax.tick_params(axis='both', which='both', labelsize=15, colors='0.15')
    ax.tick_params(axis='y', which='both', labelleft=False)
    if i % 5 != 0:
        ax.yaxis.set_major_locator(NullLocator())
        ax.yaxis.set_minor_locator(NullLocator())
    if i >= 10:
        ax.set_xlabel(r'Rest-Frame Wavelength [$\AA$]', fontsize=17.5,
                      labelpad=14, color='0.15')
    loc = 'lower left' if b == 18 else 'upper right'
    legends[b] = ax.legend(loc=loc, fontsize=17, labelspacing=0.8)

# frame the legends of the highlighted bins
fig.canvas.draw()
renderer = fig.canvas.get_renderer()
to_fig = fig.transFigure.inverted()
pad = 6
for b in marked:
    bb = legends[b].get_window_extent(renderer)
    (x0, y0), (x1, y1) = to_fig.transform([(bb.x0 - pad, bb.y0 - pad),
                                           (bb.x1 + pad, bb.y1 + pad)])
    fig.add_artist(Rectangle((x0, y0), x1 - x0, y1 - y0, transform=fig.transFigure,
                             fill=False, edgecolor='#b01400', lw=5.5, zorder=10))

fig.savefig('out.png', dpi=100)
